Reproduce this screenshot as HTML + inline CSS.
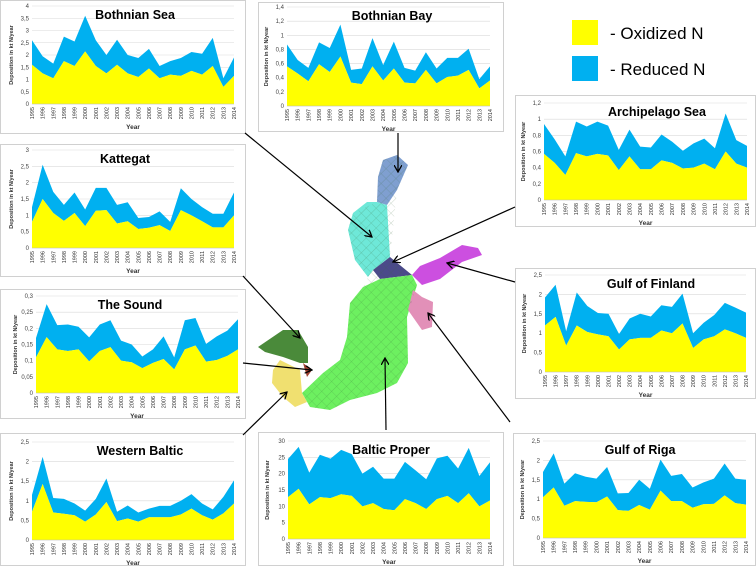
<!DOCTYPE html>
<html><head><meta charset="utf-8"><style>
body{margin:0;width:756px;height:568px;background:#fff;overflow:hidden;font-family:"Liberation Sans",sans-serif}
svg{position:absolute;left:0;top:0}
</style></head><body>
<svg id="s" width="756" height="568" viewBox="0 0 756 568">
<defs>
<pattern id="hatch" width="7" height="7" patternUnits="userSpaceOnUse" patternTransform="rotate(45)">
<path d="M0 0H7M0 0V7" stroke="#3a6a3a" stroke-opacity="0.45" stroke-width="0.6" fill="none"/>
</pattern>
<marker id="ah" markerWidth="8" markerHeight="8" refX="7" refY="4" orient="auto" markerUnits="userSpaceOnUse">
<path d="M0 0L7 4L0 8" fill="none" stroke="#000" stroke-width="1.3"/>
</marker>
</defs>
<g id="map">
<polygon fill="#7f9fd0" points="397,155 408,165 397,190 387,205 377,202 378,177 383,160"/>
<polygon fill="#6ee8d8" points="377,202 387,205 390,257 373,270 368,277 355,260 348,230 353,213 367,202"/>
<polygon fill="#4b4a8a" points="373,270 390,257 412,275 380,279"/>
<polygon fill="#cc4fe0" points="412,275 422,285 440,279 462,262 482,255 478,248 462,245 440,258 420,266"/>
<polygon fill="#6df060" points="380,279 412,275 417,285 407,317 408,363 397,383 377,393 350,400 330,410 310,407 302,393 323,373 340,360 347,337 350,303 363,287"/>
<polygon fill="#e290b8" points="413,290 422,297 433,302 432,327 422,330 408,310"/>
<polygon fill="#4a8a3a" points="283,330 298,330 308,347 308,363 300,363 283,357 265,352 258,347"/>
<polygon fill="#a04030" points="303,363 312,370 307,377"/>
<polygon fill="#f0e070" points="280,360 300,370 302,393 307,402 295,407 283,397 272,383 273,370"/>
<polygon fill="url(#hatch)" points="397,155 408,165 397,190 390,257 412,275 417,285 407,317 408,363 397,383 377,393 350,400 330,410 310,407 302,393 323,373 340,360 347,337 350,303 363,287 368,277 355,260 348,230 353,213 377,202 378,177 383,160"/>
</g>
<g id="charts"></g>
<g id="arrows">
<line x1="245" y1="133" x2="372" y2="237" stroke="#000" stroke-width="1.2" marker-end="url(#ah)"/>
<line x1="398" y1="133" x2="398" y2="172" stroke="#000" stroke-width="1.2" marker-end="url(#ah)"/>
<line x1="515" y1="207" x2="393" y2="262" stroke="#000" stroke-width="1.2" marker-end="url(#ah)"/>
<line x1="515" y1="282" x2="447" y2="263" stroke="#000" stroke-width="1.2" marker-end="url(#ah)"/>
<line x1="243" y1="276" x2="300" y2="338" stroke="#000" stroke-width="1.2" marker-end="url(#ah)"/>
<line x1="243" y1="363" x2="312" y2="370" stroke="#000" stroke-width="1.2" marker-end="url(#ah)"/>
<line x1="243" y1="435" x2="287" y2="392" stroke="#000" stroke-width="1.2" marker-end="url(#ah)"/>
<line x1="386" y1="430" x2="385" y2="358" stroke="#000" stroke-width="1.2" marker-end="url(#ah)"/>
<line x1="510" y1="422" x2="428" y2="313" stroke="#000" stroke-width="1.2" marker-end="url(#ah)"/>
</g>
<g>
<rect x="572" y="20" width="26" height="25" fill="#ffff00"/>
<text x="610" y="39" font-size="17">- Oxidized N</text>
<rect x="572" y="56" width="26" height="25" fill="#00b0f0"/>
<text x="610" y="75" font-size="17">- Reduced N</text>
</g>
</svg>
<script>
const years=[1995,1996,1997,1998,1999,2000,2001,2002,2003,2004,2005,2006,2007,2008,2009,2010,2011,2012,2013,2014];
const bsOx=[1.6,1.25,1.05,1.75,1.55,2.15,1.55,1.25,1.6,1.25,1.1,1.45,1.05,1.2,1.15,1.35,1.2,1.55,0.7,1.15];
const bsTotal=[2.6,1.95,1.65,2.75,2.55,3.6,2.6,2.0,2.62,2.0,1.88,2.25,1.55,1.75,1.88,2.12,2.05,2.7,1.05,1.9];
const bbOx=[.56,.46,.35,.59,.48,.7,.33,.31,.56,.36,.53,.33,.32,.51,.32,.41,.43,.51,.25,.36];
const bbTotal=[.87,.65,.54,.9,.82,1.15,.51,.53,.96,.58,.91,.54,.5,.76,.53,.68,.68,.81,.38,.56];
const arOx=[.57,.46,.31,.58,.54,.57,.55,.37,.54,.38,.38,.49,.46,.39,.4,.45,.38,.6,.45,.4];
const arTotal=[.94,.75,.54,.97,.91,.97,.92,.62,.87,.66,.65,.81,.72,.61,.7,.76,.64,1.07,.74,.67];
const kaOx=[.8,1.5,1.07,.83,1.07,.67,1.14,1.16,.75,.82,.58,.62,.7,.52,1.16,1.0,.82,.63,.63,1.0];
const kaTotal=[1.25,2.55,1.72,1.32,1.7,1.18,1.84,1.84,1.32,1.4,.92,.95,1.12,.8,1.83,1.5,1.25,1.05,1.05,1.7];
const gfOx=[1.2,1.42,.68,1.2,1.03,.97,.92,.58,.84,.88,.88,1.07,1.0,1.25,.62,.84,.92,1.1,1.0,.88];
const gfTotal=[1.92,2.25,1.05,2.05,1.7,1.52,1.5,.98,1.38,1.5,1.43,1.72,1.68,2.02,1.0,1.27,1.47,1.78,1.66,1.53];
const soOx=[.11,.173,.135,.13,.135,.098,.13,.142,.1,.095,.077,.093,.105,.073,.135,.147,.097,.102,.115,.135];
const soTotal=[.17,.275,.21,.212,.205,.172,.212,.225,.162,.15,.113,.135,.175,.11,.225,.232,.152,.175,.193,.228];
const wbOx=[.72,1.43,.7,.67,.63,.47,.65,.97,.48,.55,.47,.58,.58,.58,.65,.8,.63,.52,.68,.93];
const wbTotal=[1.15,2.12,1.07,1.05,.93,.75,1.05,1.57,.72,.88,.7,.8,.87,.87,1.0,1.17,.93,.78,1.1,1.52];
const bpOx=[12.8,15.4,10.6,12.8,12.5,13.7,13.2,10,11,9.2,8.8,12.2,11,9.2,12.2,13.2,11,14,10,11.8];
const bpTotal=[24.5,28.2,20.3,25.8,24.6,27.3,26,20,22.1,18.5,18.5,23.6,21,18.3,24.7,25.5,21.6,27.9,19.3,23.5];
const grOx=[1.05,1.3,.83,.95,.93,.92,1.07,.72,.7,.85,.73,1.22,.95,.95,.78,.87,.88,1.1,.9,.86];
const grTotal=[1.7,2.18,1.4,1.67,1.58,1.53,1.83,1.15,1.16,1.5,1.27,2.02,1.6,1.65,1.3,1.43,1.53,1.92,1.53,1.5];
const bsTicks=["0","0,5","1","1,5","2","2,5","3","3,5","4"];
const bbTicks=["0","0,2","0,4","0,6","0,8","1","1,2","1,4"];
const arTicks=["0","0,2","0,4","0,6","0,8","1","1,2"];
const kaTicks=["0","0,5","1","1,5","2","2,5","3"];
const g25Ticks=["0","0,5","1","1,5","2","2,5"];
const soTicks=["0","0,05","0,1","0,15","0,2","0,25","0,3"];
const bpTicks=["0","5","10","15","20","25","30"];

const NS="http://www.w3.org/2000/svg";
const root=document.getElementById('charts');
function mk(tag,attrs,parent){const e=document.createElementNS(NS,tag);for(const k in attrs)e.setAttribute(k,attrs[k]);parent.appendChild(e);return e;}
function chart(slug,title,box,plot,ticks,ox,tot,titleX){
  const g=mk('g',{},root);
  
  
  const fr=mk('rect',{x:box[0]+.5,y:box[1]+.5,width:box[2]-box[0],height:box[3]-box[1],fill:'#fff',stroke:'#d0d0d0'},g);
  
  
  const [x0,yTop,x1,y0]=plot;
  const vmax=parseFloat(ticks[ticks.length-1].replace(',','.'));
  const ys=v=>y0-(v/vmax)*(y0-yTop);
  const xs=i=>x0+i*(x1-x0)/(years.length-1);
  ticks.forEach(t=>{const v=parseFloat(t.replace(',','.'));const y=ys(v);
    mk('line',{x1:x0,x2:x1,y1:y,y2:y,stroke:'#d9d9d9','stroke-width':.6},g);
    const tx=mk('text',{x:x0-3,y:y+2,'font-size':6,'text-anchor':'end',fill:'#444'},g);tx.textContent=t;
    
    });
  let top='';
  years.forEach((y,i)=>{top+=(i?'L':'M')+xs(i)+' '+ys(tot[i]);});
  let pOx='M'+xs(0)+' '+y0;years.forEach((y,i)=>{pOx+='L'+xs(i)+' '+ys(ox[i]);});pOx+='L'+xs(years.length-1)+' '+y0+'Z';
  let pRed=top;for(let i=years.length-1;i>=0;i--)pRed+='L'+xs(i)+' '+ys(ox[i]);pRed+='Z';
  const r=mk('path',{d:pRed,fill:'#00b0f0'},g);
  
  
  const o=mk('path',{d:pOx,fill:'#ffff00'},g);
  
  
  mk('line',{x1:x0,x2:x1,y1:y0,y2:y0,stroke:'#bbb','stroke-width':.6},g);
  years.forEach((yr,i)=>{const t=mk('text',{x:0,y:0,'font-size':5.5,'text-anchor':'end',fill:'#333',transform:`translate(${xs(i)+2},${y0+3}) rotate(-90)`},g);t.textContent=yr;
    
    });
  const xt=mk('text',{x:(x0+x1)/2,y:y0+25,'font-size':6.5,'font-weight':'bold','text-anchor':'middle',fill:'#333'},g);xt.textContent='Year';
  
  
  const yt=mk('text',{x:0,y:0,'font-size':5.5,'font-weight':'bold','text-anchor':'middle',fill:'#333',transform:`translate(${x0-19},${(yTop+y0)/2}) rotate(-90)`},g);yt.textContent='Deposition in kt N/year';
  
  
  const tt=mk('text',{x:titleX,y:yTop+13,'font-size':12.5,'font-weight':'bold','text-anchor':'middle',fill:'#000'},g);tt.textContent=title;
  
  
}
chart('bothnian-sea','Bothnian Sea',[0,0,245,133],[32,6,234,104],bsTicks,bsOx,bsTotal,135);
chart('bothnian-bay','Bothnian Bay',[258,2,503,131],[287,7,490,106],bbTicks,bbOx,bbTotal,392);
chart('archipelago-sea','Archipelago Sea',[515,95,755,226],[544,103,747,200],arTicks,arOx,arTotal,657);
chart('kattegat','Kattegat',[0,144,245,276],[32,150,234,248],kaTicks,kaOx,kaTotal,125);
chart('gulf-of-finland','Gulf of Finland',[515,268,755,398],[545,275,746,372],g25Ticks,gfOx,gfTotal,651);
chart('the-sound','The Sound',[0,289,245,418],[36,296,238,393],soTicks,soOx,soTotal,130);
chart('western-baltic','Western Baltic',[0,433,245,565],[32,442,234,540],g25Ticks,wbOx,wbTotal,140);
chart('baltic-proper','Baltic Proper',[258,432,503,565],[288,441,490,539],bpTicks,bpOx,bpTotal,391);
chart('gulf-of-riga','Gulf of Riga',[513,433,755,565],[543,441,746,538],g25Ticks,grOx,grTotal,640);
</script>
</body></html>
